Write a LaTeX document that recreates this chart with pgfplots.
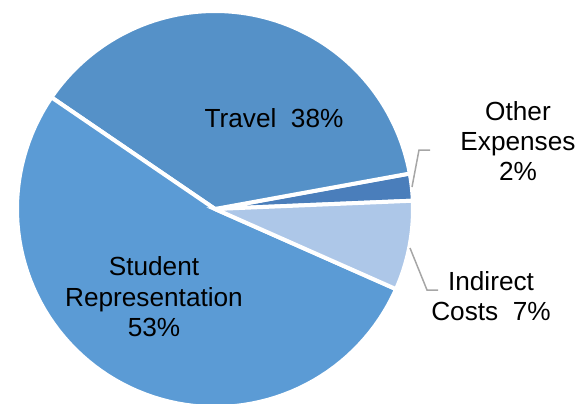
\documentclass[border=0pt]{standalone}
\usepackage{pgfplots}
\pgfplotsset{compat=1.18}
\usepackage{pgfplotstable}
\usepackage{fontspec}
\setmainfont{Liberation Sans}

\definecolor{cOther}{HTML}{4A7EBB}
\definecolor{cTravel}{HTML}{5591C8}
\definecolor{cStudent}{HTML}{5B9BD5}
\definecolor{cIndirect}{HTML}{ADC7E8}
\definecolor{cLeader}{HTML}{A6A6A6}

% shares in percent, counter-clockwise from the start angle
\pgfplotstableread{
name share
Other 2.2
Travel 37.6
Student 52.9
Indirect 7.3
}\piedata

\pgfplotstablegetelem{0}{share}\of\piedata \let\sA\pgfplotsretval
\pgfplotstablegetelem{1}{share}\of\piedata \let\sB\pgfplotsretval
\pgfplotstablegetelem{2}{share}\of\piedata \let\sC\pgfplotsretval
\pgfplotstablegetelem{3}{share}\of\piedata \let\sD\pgfplotsretval
\pgfmathsetmacro\aA{2.4}
\pgfmathsetmacro\aB{\aA+3.6*\sA}
\pgfmathsetmacro\aC{\aB+3.6*\sB}
\pgfmathsetmacro\aD{\aC+3.6*\sC}
\pgfmathsetmacro\aE{\aD+3.6*\sD}

\begin{document}
\begin{tikzpicture}
\begin{axis}[
  scale only axis, width=290pt, height=201.5pt,
  xmin=0, xmax=580, ymin=0, ymax=403,
  hide axis, clip=true,
  every axis plot/.append style={mark=none},
]
\pgfplotsset{slice/.style={draw=white, line width=2pt, samples=80, variable=\t}}
\addplot[slice, fill=cOther, domain=\aA:\aB] ({215+198*cos(\t)},{194+198*sin(\t)}) -- (215,194) -- cycle;
\addplot[slice, fill=cTravel, domain=\aB:\aC] ({215+198*cos(\t)},{194+198*sin(\t)}) -- (215,194) -- cycle;
\addplot[slice, fill=cStudent, domain=\aC:\aD] ({215+198*cos(\t)},{194+198*sin(\t)}) -- (215,194) -- cycle;
\addplot[slice, fill=cIndirect, domain=\aD:\aE] ({215+198*cos(\t)},{194+198*sin(\t)}) -- (215,194) -- cycle;

% leader lines
\addplot[color=cLeader, line width=0.75pt] coordinates {(412,216) (419,253) (430,253)};
\addplot[color=cLeader, line width=0.75pt] coordinates {(410,155) (427,113) (438,113)};

% labels
\node[align=center, font=\fontsize{13.1}{15.2}\selectfont] at (axis cs:274,285) {Travel~~38\%};
\node[align=center, font=\fontsize{13.1}{15.2}\selectfont] at (axis cs:154,106) {Student\\Representation\\53\%};
\node[align=center, font=\fontsize{13.1}{15.2}\selectfont] at (axis cs:518,262) {Other\\Expenses\\2\%};
\node[align=center, font=\fontsize{13.1}{15.2}\selectfont] at (axis cs:491,107) {Indirect\\Costs~~7\%};
\end{axis}
\pgfresetboundingbox
\useasboundingbox (current axis.south west) rectangle (current axis.north east);
\end{tikzpicture}
\end{document}
